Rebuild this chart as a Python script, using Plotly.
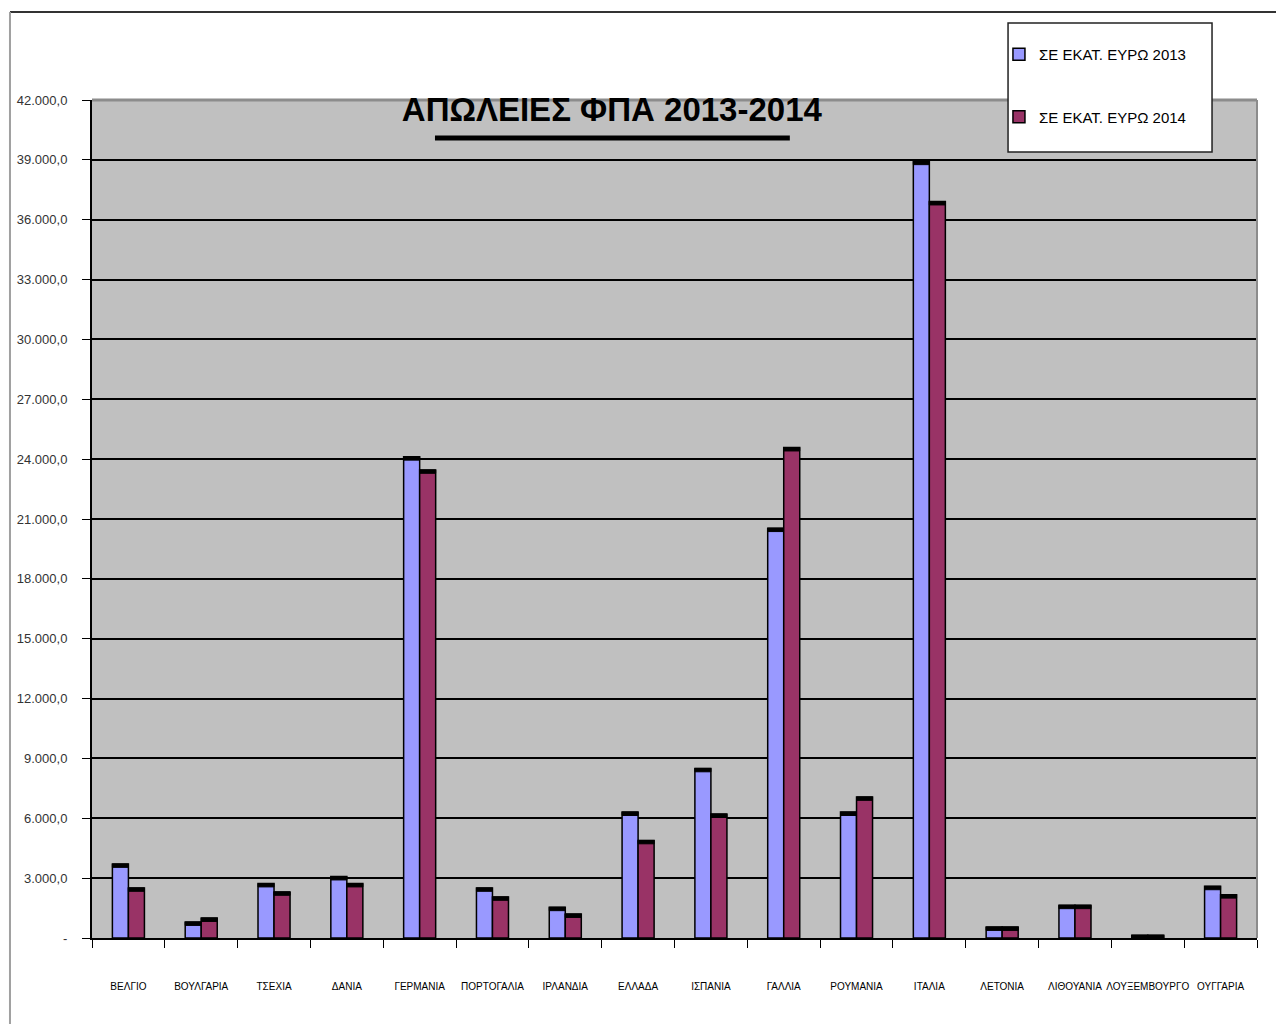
import plotly.graph_objects as go

# Χώρες (κατηγορίες άξονα x)
countries = ["ΒΕΛΓΙΟ", "ΒΟΥΛΓΑΡΙΑ", "ΤΣΕΧΙΑ", "ΔΑΝΙΑ", "ΓΕΡΜΑΝΙΑ", "ΠΟΡΤΟΓΑΛΙΑ",
             "ΙΡΛΑΝΔΙΑ", "ΕΛΛΑΔΑ", "ΙΣΠΑΝΙΑ", "ΓΑΛΛΙΑ", "ΡΟΥΜΑΝΙΑ", "ΙΤΑΛΙΑ",
             "ΛΕΤΟΝΙΑ", "ΛΙΘΟΥΑΝΙΑ", "ΛΟΥΞΕΜΒΟΥΡΓΟ", "ΟΥΓΓΑΡΙΑ"]

# Απώλειες ΦΠΑ σε εκατ. ευρώ
vat_2013 = [3710, 800, 2730, 3080, 24120, 2510, 1540, 6310, 8500, 20540, 6310, 38930,
            550, 1640, 140, 2590]
vat_2014 = [2510, 1000, 2310, 2730, 23460, 2060, 1200, 4890, 6210, 24580, 7070, 36910,
            550, 1640, 140, 2170]

series_names = ["ΣΕ ΕΚΑΤ. ΕΥΡΩ 2013", "ΣΕ ΕΚΑΤ. ΕΥΡΩ 2014"]
series_colors = ["#9999FF", "#993366"]

y_ticks = list(range(0, 42001, 3000))
y_ticktext = ["-"] + [f"{v:,.1f}".replace(",", "X").replace(".", ",").replace("X", ".")
                      for v in y_ticks[1:]]

chart_title = "ΑΠΩΛΕΙΕΣ ΦΠΑ 2013-2014"

CAP = 170  # πάχος της μαύρης "κορυφής" κάθε στήλης (μονάδες άξονα y)

FONT = "Liberation Sans, Arial, sans-serif"

fig = go.Figure()
for i, (name, vals, col) in enumerate(zip(series_names, [vat_2013, vat_2014], series_colors)):
    fig.add_trace(go.Bar(
        x=countries, y=vals, name=name, offsetgroup=str(i), legendgroup=str(i),
        marker=dict(color=col, line=dict(color="black", width=1.5)),
    ))
    # μαύρη κορυφή πάνω σε κάθε στήλη
    fig.add_trace(go.Bar(
        x=countries, y=[CAP] * len(vals), base=[v - CAP for v in vals],
        offsetgroup=str(i), legendgroup=str(i), showlegend=False, hoverinfo="skip",
        marker=dict(color="black", line=dict(color="black", width=1)),
    ))

# πλαίσιο γραφήματος, πλαίσιο υπομνήματος και υπογράμμιση τίτλου
shapes = [
    dict(type="line", xref="paper", yref="paper", x0=-0.0704, x1=1.02, y0=1.105, y1=1.105,
         line=dict(color="#333333", width=2)),
    dict(type="line", xref="paper", yref="paper", x0=-0.0704, x1=-0.0704, y0=1.105, y1=-0.11,
         line=dict(color="#A0A0A0", width=2)),
    dict(type="line", xref="paper", yref="paper", x0=0, x1=1, y0=1, y1=1,
         line=dict(color="#8C8C8C", width=3)),
    dict(type="line", xref="paper", yref="paper", x0=1, x1=1, y0=0, y1=1,
         line=dict(color="#8C8C8C", width=2)),
    dict(type="line", xref="paper", yref="paper", x0=0.2944, x1=0.599, y0=0.9547, y1=0.9547,
         line=dict(color="black", width=5)),
    dict(type="rect", xref="paper", yref="paper", x0=0.7863, x1=0.9614, y0=0.938, y1=1.0919,
         fillcolor="white", line=dict(color="#222222", width=1.5)),
]

fig.update_layout(
    width=1276, height=1024,
    margin=dict(l=92, r=19, t=100, b=86),
    paper_bgcolor="white",
    plot_bgcolor="#C0C0C0",
    barmode="group",
    bargap=0.56,
    bargroupgap=0,
    title=dict(text=f"<b>{chart_title}</b>", x=0.4795, xanchor="center", y=0.893, yanchor="middle",
               font=dict(family=FONT, size=33, color="black")),
    legend=dict(x=0.7785, xanchor="left", y=1.074, yanchor="top",
                bgcolor="rgba(0,0,0,0)", borderwidth=0,
                font=dict(family=FONT, size=15, color="black"),
                tracegroupgap=40, itemwidth=30),
    shapes=shapes,
    xaxis=dict(
        type="category", tickson="boundaries", ticks="outside", ticklen=8, tickcolor="black",
        showline=True, linecolor="black", linewidth=2, tickangle=0,
        tickfont=dict(family=FONT, size=10, color="black"),
        ticklabelstandoff=38, showgrid=False,
    ),
    yaxis=dict(
        range=[0, 42000], tickvals=y_ticks, ticktext=y_ticktext,
        ticks="outside", ticklen=8, tickcolor="black",
        showline=True, linecolor="black", linewidth=2,
        showgrid=True, gridcolor="black", gridwidth=2,
        zeroline=False,
        tickfont=dict(family=FONT, size=13, color="#333333"),
        ticklabelstandoff=12,
    ),
    showlegend=True,
)

fig.write_html("out.html")
